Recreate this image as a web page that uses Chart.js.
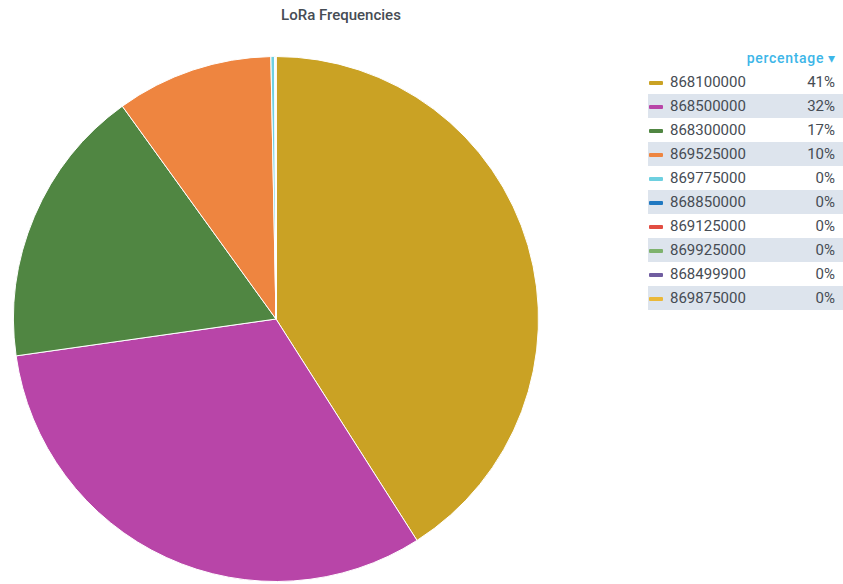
<!DOCTYPE html>
<html><head><meta charset="utf-8">
<script src="https://cdn.jsdelivr.net/npm/chart.js@4"></script>
<style>
html,body{margin:0;padding:0;background:#fff;width:843px;height:584px;overflow:hidden;font-family:Roboto,"Noto Sans",sans-serif;}
#title{position:absolute;left:241px;width:200px;top:6px;text-align:center;font-size:15px;font-weight:500;color:#464c54;}
#wrap{position:absolute;left:13px;top:56px;width:526px;height:526px;}
#legend{position:absolute;left:648px;top:47px;width:195px;font-size:15px;color:#464c54;}
.hdr{height:23px;line-height:23px;text-align:right;padding-right:7px;color:#3db6e8;font-weight:500;font-size:14px;letter-spacing:0.7px;}
.row{height:24px;line-height:24px;position:relative;}
.row.alt{background:#dde4ed;}
.sw{position:absolute;left:1px;top:11px;width:14px;height:4px;border-radius:1px;}
.lbl{position:absolute;left:22px;}
.val{position:absolute;right:8px;}
</style></head><body>
<div id="title">LoRa Frequencies</div>
<div id="wrap"><canvas id="c" width="526" height="526"></canvas></div>
<div id="legend"></div>
<script>
const categories = ["868100000","868500000","868300000","869525000","869775000","868850000","869125000","869925000","868499900","869875000"];
const percentages = [41.0, 31.8, 17.3, 9.65, 0.22, 0.04, 0.02, 0.01, 0.01, 0.01];
const legendValues = ["41%","32%","17%","10%","0%","0%","0%","0%","0%","0%"];
const colors = ["#CAA224","#B845A8","#508642","#EE8540","#6ED0E0","#1F78C1","#E24D42","#7EB26D","#705DA0","#EAB839"];

new Chart(document.getElementById('c'), {
  type: 'pie',
  data: { labels: categories, datasets: [{ data: percentages, backgroundColor: colors, borderColor: '#ffffff', borderWidth: 1 }] },
  options: {
    responsive: false, animation: false,
    layout: { padding: 0 },
    plugins: { legend: { display: false }, tooltip: { enabled: false }, title: { display: false } }
  }
});

const lg = document.getElementById('legend');
let html = '<div class="hdr">percentage &#9662;</div>';
categories.forEach((c, i) => {
  html += `<div class="row${i % 2 ? ' alt' : ''}"><span class="sw" style="background:${colors[i]}"></span><span class="lbl">${c}</span><span class="val">${legendValues[i]}</span></div>`;
});
lg.innerHTML = html;
</script>
</body></html>
